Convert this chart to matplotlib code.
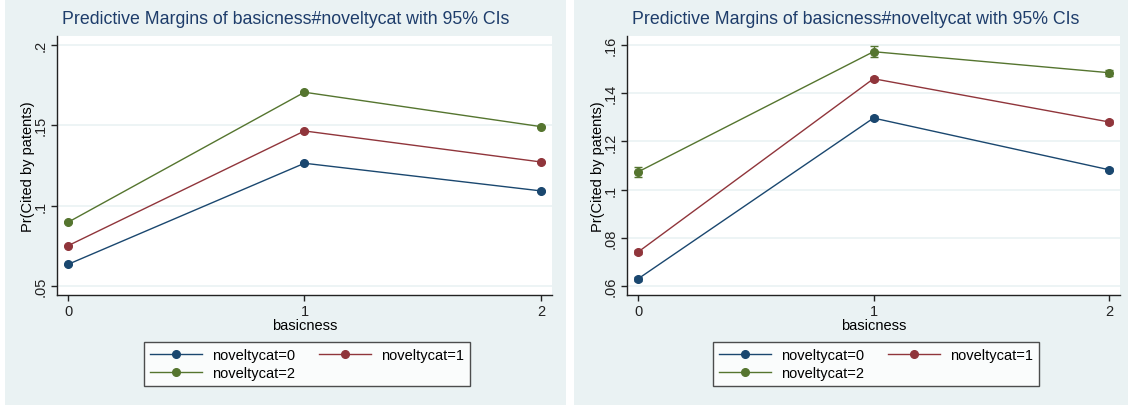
import numpy as np
import matplotlib.pyplot as plt
from matplotlib.patches import Rectangle

plt.rcParams['font.family'] = ['Liberation Sans', 'DejaVu Sans']

# data
basicness = [0, 1, 2]
labels = ["noveltycat=0", "noveltycat=1", "noveltycat=2"]

left_vals = [
    [0.0635, 0.1264, 0.1092],
    [0.0751, 0.1465, 0.1272],
    [0.0897, 0.1706, 0.1492],
]
left_ci = [
    [0.0004, 0.0005, 0.0004],
    [0.0004, 0.0005, 0.0004],
    [0.0005, 0.0006, 0.0005],
]
right_vals = [
    [0.0631, 0.1297, 0.1083],
    [0.0742, 0.1460, 0.1281],
    [0.1074, 0.1572, 0.1485],
]
right_ci = [
    [0.0008, 0.0009, 0.0007],
    [0.0009, 0.0009, 0.0008],
    [0.0022, 0.0022, 0.0012],
]
left_yticks = [0.05, 0.10, 0.15, 0.20]
left_ytl = [".05", ".1", ".15", ".2"]
right_yticks = [0.06, 0.08, 0.10, 0.12, 0.14, 0.16]
right_ytl = [".06", ".08", ".1", ".12", ".14", ".16"]

colors = ["#1a476f", "#90353b", "#55752f"]
bg = "#eaf2f3"
title_col = "#1e3d6b"

W, H = 1128, 406
fig = plt.figure(figsize=(W / 100, H / 100), dpi=100)
fig.patch.set_facecolor("white")

# panel backgrounds
fig.add_artist(Rectangle((5 / W, 0), (566 - 5) / W, 1, transform=fig.transFigure,
                         facecolor=bg, edgecolor="none", zorder=0))
fig.add_artist(Rectangle((574 / W, 0), (W - 574) / W, 1, transform=fig.transFigure,
                         facecolor=bg, edgecolor="none", zorder=0))


def panel(x0, x1, vals, ci, yticks, ytl, ylim, legend_x):
    ax = fig.add_axes([x0 / W, (H - 296) / H, (x1 - x0) / W, (296 - 37) / H])
    ax.set_facecolor("white")
    handles = []
    for i in range(3):
        ax.errorbar(basicness, vals[i], yerr=ci[i], fmt="none", ecolor=colors[i],
                    elinewidth=1, capsize=3, capthick=1, zorder=2)
        h, = ax.plot(basicness, vals[i], "-o", color=colors[i], lw=1,
                     ms=5.5, label=labels[i], zorder=3)
        handles.append(h)
    ax.set_xlim(-0.047, 2.047)
    ax.set_ylim(*ylim)
    ax.set_xticks(basicness)
    ax.set_yticks(yticks)
    ax.set_yticklabels(ytl, rotation=90, va="center")
    ax.grid(axis="y", color=bg, lw=1.2)
    ax.set_axisbelow(True)
    for s in ["top", "right"]:
        ax.spines[s].set_visible(False)
    for s in ["left", "bottom"]:
        ax.spines[s].set_color("#222222")
        ax.spines[s].set_linewidth(1)
    ax.tick_params(direction="out", length=4, width=1, pad=2.5, labelsize=10.5,
                   colors="#222222")
    ax.set_xlabel("basicness", fontsize=10.5, labelpad=0)
    ax.set_ylabel("Pr(Cited by patents)", fontsize=10.5, labelpad=-1)
    fig.text((x0 + 5) / W, 1 - 20 / H,
             "Predictive Margins of basicness#noveltycat with 95% CIs",
             fontsize=12.8, color=title_col, ha="left", va="center")
    leg = fig.legend([handles[0], handles[2], handles[1]],
                     [labels[0], labels[2], labels[1]], ncol=2,
                     loc="upper center", bbox_to_anchor=(legend_x / W, 1 - 343 / H),
                     fontsize=10.5, frameon=True, fancybox=False, handlelength=3.6,
                     columnspacing=1.6, handletextpad=0.7, borderpad=0.4,
                     labelspacing=0.3, borderaxespad=0)
    leg.get_frame().set_edgecolor("#222222")
    leg.get_frame().set_linewidth(1)
    return ax


panel(57, 552, left_vals, left_ci, left_yticks, left_ytl, (0.0444, 0.2056), 307)
panel(627, 1120, right_vals, right_ci, right_yticks, right_ytl, (0.0564, 0.1637), 876)

fig.savefig("out.png", dpi=100, facecolor=fig.get_facecolor())
